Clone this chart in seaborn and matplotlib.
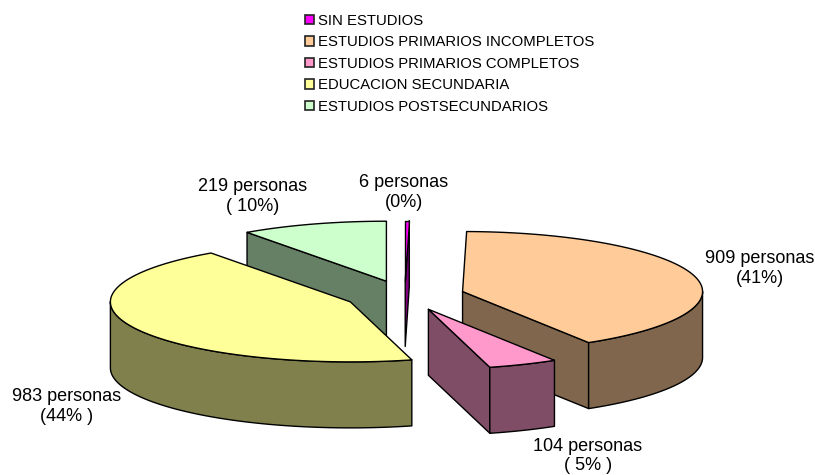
import numpy as np
import matplotlib
matplotlib.use("Agg")
import matplotlib.pyplot as plt
from matplotlib.patches import Patch
import seaborn as sns

categories = ["SIN ESTUDIOS", "ESTUDIOS PRIMARIOS INCOMPLETOS", "ESTUDIOS PRIMARIOS COMPLETOS",
              "EDUCACION SECUNDARIA", "ESTUDIOS POSTSECUNDARIOS"]
personas = [6, 909, 104, 983, 219]
porcentajes = ["(0%)", "(41%)", "( 5% )", "(44% )", "( 10%)"]
colores = ["#FF00FF", "#FFCC99", "#FF99CC", "#FFFF99", "#CCFFCC"]

# pie geometry, in pixels of the 815x475 picture
cx, cy = 404.7, 295.5
rx, ry = 240, 60
alto = 66
explode = 0.25
label_pos = [(404, 192.5), (759.5, 268.5), (588, 456), (66.5, 406.5), (252.5, 196.5)]

sns.set_theme(style="white")
plt.rcParams["font.family"] = ["Liberation Sans", "DejaVu Sans"]
palette = sns.color_palette(colores)

fig = plt.figure(figsize=(8.15, 4.75), dpi=100)
ax = fig.add_axes([0, 0, 1, 1])
ax.set_xlim(0, 815)
ax.set_ylim(475, 0)
ax.axis("off")


def punto(c, ang):
    return c[0] + rx * np.sin(ang), c[1] - ry * np.cos(ang)


# angles go clockwise from north
fin = np.cumsum(personas) / np.sum(personas) * 2 * np.pi
ini = np.concatenate(([0], fin[:-1]))

# back to front: post-sec, sin estudios, incompletos, secundaria, completos
for i in [4, 0, 1, 3, 2]:
    a0, a1 = ini[i], fin[i]
    mid = (a0 + a1) / 2
    c = (cx + explode * rx * np.sin(mid), cy - explode * ry * np.cos(mid))
    color = palette[i]
    oscuro = tuple(v * 0.5 for v in color)

    # side walls along the radial edges
    for ang, visible in [(a0, np.sin(a0) < -1e-6), (a1, np.sin(a1) > 1e-6)]:
        if visible:
            x, y = punto(c, ang)
            ax.fill([c[0], x, x, c[0]], [c[1], y, y + alto, c[1] + alto],
                    facecolor=oscuro, edgecolor="black", lw=1, joinstyle="round")

    # outer wall, only the front half of the rim shows
    f0, f1 = max(a0, np.pi / 2), min(a1, 3 * np.pi / 2)
    if f1 > f0:
        t = np.linspace(f0, f1, 100)
        x, y = punto(c, t)
        ax.fill(np.r_[x, x[::-1]], np.r_[y, y[::-1] + alto],
                facecolor=oscuro, edgecolor="black", lw=1, joinstyle="round")

    # top
    t = np.linspace(a0, a1, 200)
    x, y = punto(c, t)
    ax.fill(np.r_[c[0], x], np.r_[c[1], y], facecolor=color, edgecolor="black", lw=1, joinstyle="round")

for n, pct, (lx, ly) in zip(personas, porcentajes, label_pos):
    ax.text(lx, ly, f"{n} personas\n{pct}", ha="center", va="center", fontsize=13,
            color="black", linespacing=1.17)

handles = [Patch(facecolor=col, edgecolor="#222222", lw=1.2) for col in palette]
ax.legend(handles, categories, loc="upper left", bbox_to_anchor=(305 / 815, 1 - 14 / 475),
          frameon=False, fontsize=10.75, handlelength=0.6, handleheight=0.6, handletextpad=0.28,
          labelspacing=0.5, borderpad=0, borderaxespad=0, labelcolor="black")

fig.savefig("out.png", dpi=100)
